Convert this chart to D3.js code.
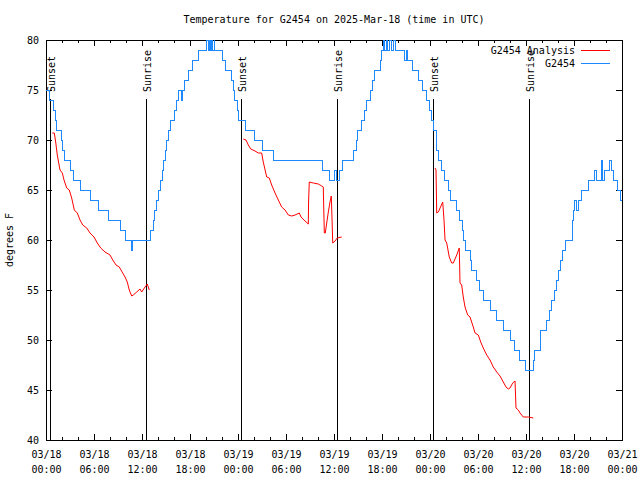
<!DOCTYPE html>
<html>
<head>
<meta charset="utf-8">
<script src="https://cdn.jsdelivr.net/npm/d3@7"></script>
<style>
  html, body { margin: 0; padding: 0; background: #fff; }
  svg { display: block; }
  text { font-family: "DejaVu Sans Mono", monospace; font-size: 10px; fill: #000; }
</style>
</head>
<body>
<svg id="chart" width="640" height="480"></svg>
<script>
// ---------------- DATA ----------------
const chartTitle = "Temperature for G2454 on 2025-Mar-18 (time in UTC)";
const yLabel = "degrees F";
const startTime = "2025-03-18T00:00:00Z";
const endTime = "2025-03-21T00:00:00Z";
const yTicks = [40, 45, 50, 55, 60, 65, 70, 75, 80];

// Observations (G2454): hours since start, temperature (step changes)
const obsHours = [0.0, 0.4, 0.9, 1.2, 1.3, 1.9, 2.0, 2.3, 3.1, 3.4, 4.3, 5.5, 6.5, 7.8, 9.25, 9.9, 10.7, 10.8, 12.9,
  13.0, 13.4, 13.6, 13.8, 14.1, 14.25, 14.5, 14.7, 14.9, 15.1, 15.3, 15.5, 16.1, 16.35, 16.5, 16.95, 17.05, 17.3,
  17.75, 18.25, 19.0, 20.1, 20.25, 20.4, 20.55, 20.7, 20.85, 21.0, 21.1, 22.1, 22.4, 23.2, 23.4, 23.6, 23.9, 24.1,
  24.25, 24.9, 26.1, 27.0, 28.4, 34.6, 35.4, 36.1, 36.3, 36.65, 37.0, 37.6, 38.4, 38.75, 38.95, 39.4,
  39.75, 40.1, 40.5, 40.75, 41.0, 41.75, 41.9, 42.15, 42.25, 42.5, 42.7, 42.9, 43.2, 43.4, 43.7, 44.0, 44.75, 45.0,
  45.2, 45.75, 46.6, 47.0, 47.5, 47.9, 48.2, 48.4, 48.75, 48.8, 49.05, 49.4, 49.8, 50.3, 50.6, 51.3, 51.7, 52.0,
  52.2, 52.4, 53.0, 53.2, 53.75, 54.2, 54.7, 55.6, 56.3, 57.2, 58.0, 58.5, 59.2, 59.9, 60.9, 61.1, 61.75, 61.8,
  62.5, 62.9, 63.2, 63.5, 63.75, 64.0, 64.25, 64.6, 64.9, 65.75, 65.8, 65.9, 66.1, 66.3, 66.55, 66.95, 67.8, 68.6,
  68.8, 69.45, 69.6, 69.75, 70.4, 70.7, 70.9, 71.4, 71.85, 72.0];
const obsTemps = [75, 74, 73, 72, 71, 70, 69, 68, 67, 66, 65, 64, 63, 62, 61, 60, 59, 60, 60,
  61, 62, 63, 64, 65, 66, 67, 68, 69, 70, 71, 72, 73, 74, 75, 74, 75, 76,
  77, 78, 79, 80, 79, 80, 79, 80, 79, 80, 79, 78, 77, 76, 75, 74, 73, 72,
  72, 71, 70, 69, 68, 67, 66, 67, 66, 67, 68, 68, 69, 70, 71, 72,
  73, 74, 75, 76, 77, 78, 79, 80, 79, 80, 79, 80, 79, 80, 79, 79, 78, 79,
  78, 77, 76, 75, 74, 73, 72, 71, 70, 69, 68, 67, 66, 65, 64, 63, 62, 61,
  60, 59, 58, 57, 56, 55, 54, 53, 52, 51, 50, 49, 48, 47, 48, 49, 50, 51,
  52, 53, 54, 55, 56, 57, 58, 59, 60, 61, 62, 63, 64, 63, 64, 65, 66, 67,
  66, 68, 66, 67, 68, 67, 66, 65, 64, 64];

// Analysis (G2454 Analysis): hours since start, temperature (null = gap)
const anaHours = [0.79, 1.04, 1.21, 1.41, 1.75, 2.04, 2.25, 2.59, 2.91, 3.21, 3.54, 3.91, 4.25, 4.59, 5.09, 5.5,
  6.0, 6.41, 6.84, 7.38, 8.0, 8.34, 8.75, 9.16, 9.59, 9.88, 10.16, 10.41, 10.71, 10.91, 11.34, 11.75, 11.96,
  12.38, 12.66, 12.91,
  18.0,
  24.66, 25.0, 25.29, 25.59, 26.13, 26.54, 26.96, 27.16, 27.59, 27.91, 28.21, 28.63, 29.04, 29.46, 29.88, 30.29,
  30.71, 31.13, 31.66, 31.88, 32.25, 32.79, 32.82, 32.91, 33.41, 34.04, 34.46, 34.66, 34.79, 34.91, 35.09, 35.29,
  35.5, 35.66, 35.75, 35.84, 36.13, 36.41, 36.96,
  42.0,
  48.63, 48.75, 48.84, 49.04, 49.59, 49.75, 49.88, 50.09, 50.41, 50.71, 50.91, 51.34, 51.66, 51.75, 51.96, 52.16,
  52.38, 52.71, 53.0, 53.41, 53.63, 54.04, 54.34, 54.66, 55.09, 55.5, 55.91, 56.34, 56.75, 57.16, 57.5, 57.79,
  58.0, 58.34, 58.63, 58.75, 59.04, 59.25, 59.66, 60.29, 60.91];
const anaTemps = [70.7, 70.7, 69.8, 68.5, 67, 66.7, 66, 65.2, 65, 64.2, 63, 62.7, 62, 61.5, 61.2, 60.7,
  60.3, 59.7, 59.2, 58.8, 58.5, 58, 57.5, 57.3, 56.7, 56.3, 55.8, 55, 54.4, 54.5, 54.8, 55.1, 54.8,
  55.3, 55.6, 55,
  null,
  70.1, 70.0, 69.5, 69.1, 68.9, 68.7, 68.7, 67.8, 66.3, 66.2, 65.5, 64.7, 64, 63.3, 63, 62.5,
  62.4, 62.5, 62.7, 62.3, 62, 61.6, 63.7, 65.8, 65.7, 65.6, 65.4, 65.3, 60.7, 60.7, 61.7, 62.8,
  63.8, 64.4, 62.2, 59.7, 59.9, 60.2, 60.3,
  null,
  67.2, 67, 62.7, 62.8, 63.8, 62, 60, 59.7, 58.3, 57.7, 57.7, 58.5, 59.2, 55.7, 55.5, 54.3,
  53.3, 52.5, 52.3, 51.3, 50.7, 50.5, 49.8, 49.2, 48.5, 48, 47.3, 46.8, 46.4, 45.8, 45.3, 45.1,
  45.2, 45.7, 45.9, 43.2, 43, 42.7, 42.3, 42.3, 42.2];

// Sun events: hours since start
const sunHours = [0.5, 12.5, 24.4, 36.4, 48.4, 60.4];
const sunLabels = ["Sunset", "Sunrise", "Sunset", "Sunrise", "Sunset", "Sunrise"];

const seriesNames = ["G2454 Analysis", "G2454"];
const seriesColors = ["#ff0000", "#1e88ff"];

// ---------------- CHART ----------------
const svg = d3.select("#chart");
const W = 640, H = 480;
const m = { left: 46, right: 18, top: 40, bottom: 40 };
const x0 = m.left, x1 = W - m.right, yTop = m.top, yBot = H - m.bottom;

const t0 = new Date(startTime), t1 = new Date(endTime);
const toDate = h => new Date(t0.getTime() + h * 3600e3);

const x = d3.scaleUtc().domain([t0, t1]).range([x0, x1]);
const y = d3.scaleLinear().domain([40, 80]).range([yBot, yTop]);

// title (centred over the plot area)
svg.append("text").attr("x", (x0 + x1) / 2).attr("y", 23).attr("text-anchor", "middle").text(chartTitle);

// y label
svg.append("text").attr("transform", `translate(13,${(yTop + yBot) / 2}) rotate(-90)`)
  .attr("text-anchor", "middle").text(yLabel);

const majorTicks = d3.utcHour.every(6).range(t0, new Date(t1.getTime() + 1));
const minorTicks = d3.utcHour.every(2).range(t0, new Date(t1.getTime() + 1));

// bottom axis
const gx = svg.append("g").attr("transform", `translate(0,${yBot})`)
  .call(d3.axisBottom(x).tickValues(majorTicks).tickSizeInner(-6).tickSizeOuter(0).tickPadding(11).tickFormat(() => ""));
gx.select(".domain").remove();
gx.selectAll(".tick text").each(function (d) {
  const t = d3.select(this);
  t.append("tspan").attr("x", 0).attr("dy", "0.71em").text(d3.utcFormat("%m/%d")(d));
  t.append("tspan").attr("x", 0).attr("dy", "15").text(d3.utcFormat("%H:%M")(d));
});
// top axis mirror
const gt = svg.append("g").attr("transform", `translate(0,${yTop})`)
  .call(d3.axisTop(x).tickValues(majorTicks).tickSizeInner(-6).tickSizeOuter(0).tickFormat(() => ""));
gt.select(".domain").remove();
// minor ticks
svg.append("g").selectAll("line.mb").data(minorTicks).join("line")
  .attr("x1", d => Math.round(x(d)) + 0.5).attr("x2", d => Math.round(x(d)) + 0.5)
  .attr("y1", yBot).attr("y2", yBot - 3).attr("stroke", "#000");
svg.append("g").selectAll("line.mt").data(minorTicks).join("line")
  .attr("x1", d => Math.round(x(d)) + 0.5).attr("x2", d => Math.round(x(d)) + 0.5)
  .attr("y1", yTop).attr("y2", yTop + 3).attr("stroke", "#000");

// y axes
const gy = svg.append("g").attr("transform", `translate(${x0},0)`)
  .call(d3.axisLeft(y).tickValues(yTicks).tickSizeInner(-6).tickSizeOuter(0).tickPadding(7).tickFormat(d3.format("d")));
gy.select(".domain").remove();
const gyr = svg.append("g").attr("transform", `translate(${x1},0)`)
  .call(d3.axisRight(y).tickValues(yTicks).tickSizeInner(-6).tickSizeOuter(0).tickFormat(() => ""));
gyr.select(".domain").remove();

svg.selectAll(".tick line").attr("stroke", "#000").attr("shape-rendering", "crispEdges");
svg.selectAll(".tick text").style("font-family", '"DejaVu Sans Mono", monospace').style("font-size", "10px");

// frame
svg.append("rect").attr("x", x0 + 0.5).attr("y", yTop + 0.5)
  .attr("width", x1 - x0).attr("height", yBot - yTop)
  .attr("fill", "none").attr("stroke", "#000").attr("shape-rendering", "crispEdges");

// sun lines
const sunG = svg.append("g");
sunHours.forEach((h, i) => {
  const xp = Math.round(x(toDate(h))) + 0.5;
  sunG.append("line").attr("x1", xp).attr("x2", xp).attr("y1", 99).attr("y2", yBot)
    .attr("stroke", "#000").attr("shape-rendering", "crispEdges");
  sunG.append("text").attr("transform", `translate(${xp + 4},92) rotate(-90)`)
    .attr("text-anchor", "start").text(sunLabels[i]);
});

// clip
svg.append("clipPath").attr("id", "clip").append("rect")
  .attr("x", x0).attr("y", yTop).attr("width", x1 - x0 + 1).attr("height", yBot - yTop + 1);

// analysis line
const anaData = anaHours.map((h, i) => ({ t: toDate(h), v: anaTemps[i] }));
svg.append("path").datum(anaData)
  .attr("clip-path", "url(#clip)")
  .attr("fill", "none").attr("stroke", seriesColors[0]).attr("stroke-width", 1)
  .attr("d", d3.line().defined(d => d.v !== null).x(d => x(d.t)).y(d => y(d.v)));

// observation line
const obsData = obsHours.map((h, i) => ({ t: toDate(h), v: obsTemps[i] }));
svg.append("path").datum(obsData)
  .attr("clip-path", "url(#clip)")
  .attr("fill", "none").attr("stroke", seriesColors[1]).attr("stroke-width", 1)
  .attr("shape-rendering", "crispEdges")
  .attr("d", d3.line().curve(d3.curveStepAfter).x(d => x(d.t)).y(d => y(d.v)));

// legend
const leg = svg.append("g");
seriesNames.forEach((n, i) => {
  const yy = 50 + i * 13;
  leg.append("text").attr("x", 575).attr("y", yy).attr("dy", "0.35em").attr("text-anchor", "end").text(n);
  leg.append("line").attr("x1", 581).attr("x2", 610).attr("y1", yy + 0.5).attr("y2", yy + 0.5)
    .attr("stroke", seriesColors[i]).attr("shape-rendering", "crispEdges");
});
</script>
</body>
</html>
